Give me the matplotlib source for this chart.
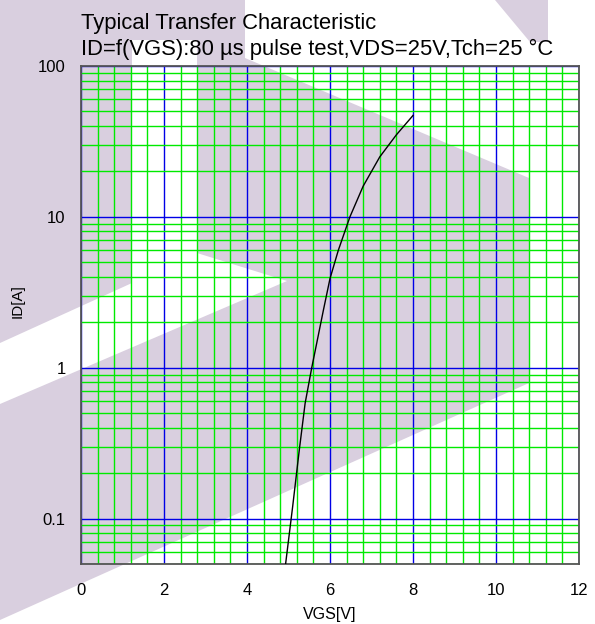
import matplotlib
matplotlib.use("Agg")
import matplotlib.pyplot as plt
from matplotlib.patches import Polygon
from matplotlib.ticker import FixedLocator, LogLocator, NullFormatter, FuncFormatter

plt.rcParams['font.family'] = ['Liberation Sans', 'DejaVu Sans']

# Transfer characteristic ID = f(VGS)
vgs = [4.93, 5.10, 5.26, 5.40, 5.56, 5.84, 6.00, 6.20, 6.48, 6.80, 7.20, 7.60, 8.00]
id_a = [0.05, 0.12, 0.285, 0.58, 1.0, 2.4, 3.9, 6.0, 10.0, 16.0, 25.0, 35.0, 47.0]

x_ticks = [0, 2, 4, 6, 8, 10, 12]
y_ticks = [0.1, 1, 10, 100]
x_lim = (0, 12)
y_lim = (0.05, 100)

title = "Typical Transfer Characteristic\nID=f(VGS):80 µs pulse test,VDS=25V,Tch=25 °C"
x_label = "VGS[V]"
y_label = "ID[A]"

W, H = 595, 624
fig = plt.figure(figsize=(W / 100, H / 100), dpi=100)
fig.patch.set_facecolor('white')

# faint background logo shapes (pixel outlines, top-left origin)
logo_color = '#d9cfdf'
logo_shapes = [
    [(0, 0), (245, 0), (245, 40), (132, 40), (132, 283), (0, 343)],
    [(197, 40), (245, 40), (245, 58), (529, 178), (529, 383), (0, 620),
     (0, 404), (287, 281), (197, 253)],
    [(495, 0), (548, 0), (548, 42), (530, 42)],
]
for shape in logo_shapes:
    pts = [(px / W, 1 - py / H) for px, py in shape]
    fig.patches.append(Polygon(pts, closed=True, transform=fig.transFigure,
                               facecolor=logo_color, edgecolor='none', zorder=-5))

ax = fig.add_axes([81 / W, 1 - 564 / H, (579 - 81) / W, (564 - 66) / H])
ax.set_facecolor('none')
ax.set_yscale('log')
ax.set_xlim(*x_lim)
ax.set_ylim(*y_lim)

ax.xaxis.set_major_locator(FixedLocator(x_ticks))
minor_x = [i * 0.4 for i in range(31) if i % 5 != 0]
ax.xaxis.set_minor_locator(FixedLocator(minor_x))
ax.yaxis.set_major_locator(FixedLocator(y_ticks))
ax.yaxis.set_minor_locator(LogLocator(base=10, subs=[2, 3, 4, 5, 6, 7, 8, 9], numticks=20))
ax.xaxis.set_minor_formatter(NullFormatter())
ax.yaxis.set_minor_formatter(NullFormatter())
ax.yaxis.set_major_formatter(FuncFormatter(lambda v, p: f"{v:g}"))

ax.grid(True, which='minor', color='#00ea00', linewidth=1.0)
ax.grid(True, which='major', color='#0000e6', linewidth=1.0)
ax.set_axisbelow(True)

ax.tick_params(which='both', length=0)
ax.tick_params(axis='x', which='major', pad=14, labelsize=12)
ax.tick_params(axis='y', which='major', pad=11, labelsize=12)

for side, sp in ax.spines.items():
    sp.set_color('#555555')
    sp.set_linewidth(1.3)

ax.plot(vgs, id_a, color='black', linewidth=1.0, zorder=3)

ax.set_xlabel(x_label, fontsize=11.5, labelpad=6)
ax.set_ylabel(y_label, fontsize=11)
ax.yaxis.set_label_coords((25 - 81) / 498, (564 - 301) / 498)
ax.set_title(title, loc='left', fontsize=15.8, pad=8, linespacing=1.32)

fig.savefig("out.png", dpi=100)
